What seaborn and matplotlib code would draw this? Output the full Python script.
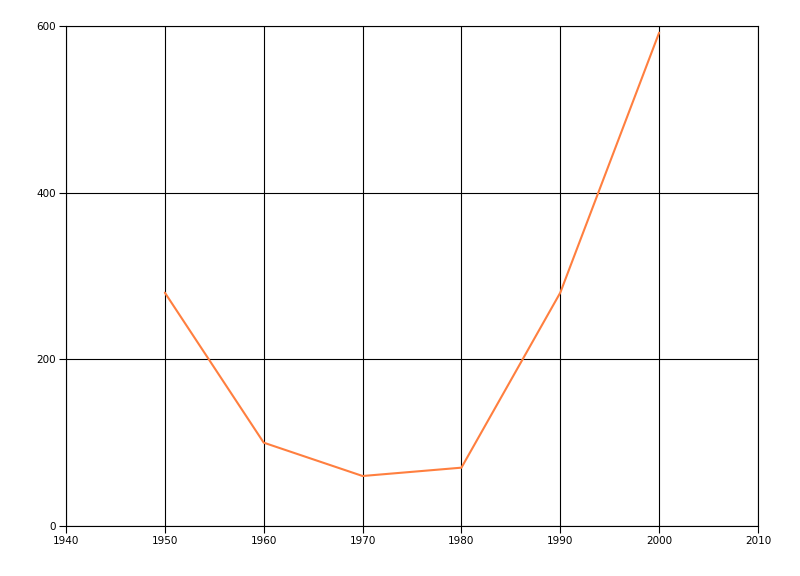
import matplotlib
matplotlib.use('Agg')
import matplotlib.pyplot as plt
import seaborn as sns
import pandas as pd

# data
years = [1950, 1960, 1970, 1980, 1990, 2000]
values = [280, 100, 60, 70, 280, 592]
x_ticks = [1940, 1950, 1960, 1970, 1980, 1990, 2000, 2010]
y_ticks = [0, 200, 400, 600]

df = pd.DataFrame({'year': years, 'value': values})

sns.set_style('white')
plt.rcParams['font.family'] = ['DejaVu Sans']

fig = plt.figure(figsize=(8, 5.76), dpi=100)
ax = fig.add_axes([0.0825, 0.0868, 0.865, 0.8681])

sns.lineplot(data=df, x='year', y='value', color='#FF7F3F', linewidth=1.5, ax=ax)

ax.set_xlim(1940, 2010)
ax.set_ylim(0, 600)
ax.set_xticks(x_ticks)
ax.set_yticks(y_ticks)
ax.grid(True, color='black', linewidth=0.8)
ax.set_axisbelow(True)
for s in ax.spines.values():
    s.set_color('black')
    s.set_linewidth(0.8)
ax.tick_params(axis='both', which='both', length=5, width=0.8, color='black',
               labelsize=7.5, labelcolor='black', pad=2, left=True, bottom=True)
ax.set_xlabel('')
ax.set_ylabel('')

fig.savefig('out.png', dpi=100)
